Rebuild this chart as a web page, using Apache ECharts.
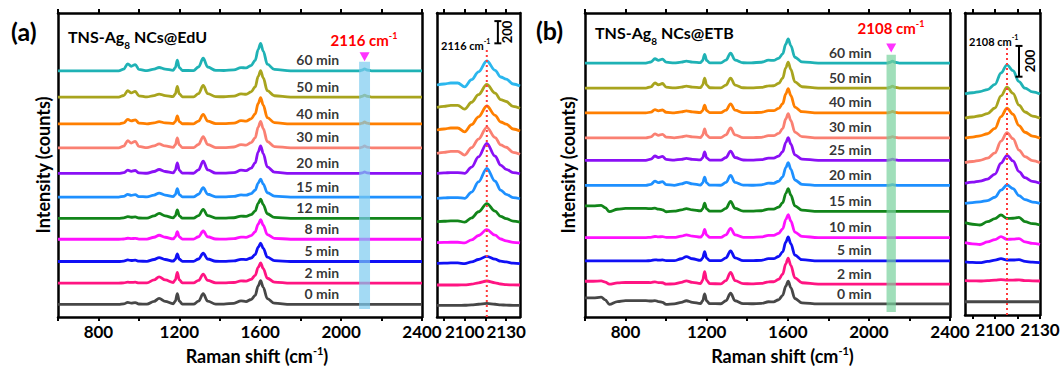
<!DOCTYPE html>
<html>
<head>
<meta charset="utf-8">
<script src="https://cdn.jsdelivr.net/npm/echarts@6/dist/echarts.min.js"></script>
<style>
  html, body { margin: 0; padding: 0; background: #fff; }
  #chart { width: 1064px; height: 370px; }
</style>
</head>
<body>
<div id="chart"></div>
<script>
/* ── Data ──────────────────────────────────────────── */
const timesA = ["60 min", "50 min", "40 min", "30 min", "20 min", "15 min", "12 min", "8 min", "5 min", "2 min", "0 min"];
const timesB = ["60 min", "50 min", "40 min", "30 min", "25 min", "20 min", "15 min", "10 min", "5 min", "2 min", "0 min"];

const traceColors = ["#1FB2B5", "#A8A41E", "#FF7F00", "#FA8072", "#8A10F5", "#1E90FF", "#12851A", "#FF10FF", "#1010F5", "#FF1482", "#474747"];
const smallColorsA = ["#2BB7EE", "#A8A41E", "#FF7F00", "#FA8072", "#8A10F5", "#1E90FF", "#12851A", "#FF10FF", "#1010F5", "#FF1482", "#474747"];

// x ticks / labels
const ticksMain = [600, 800, 1000, 1200, 1400, 1600, 1800, 2000, 2200, 2400];
const labelsMain = [800, 1200, 1600, 2000, 2400];
const ticksSmall = [2085, 2100, 2115, 2130];
const labelsSmall = [2100, 2130];

// Raman shift grid of the survey spectra (cm-1)
const shiftMain = [600, 640, 680, 700, 720, 760, 800, 900, 925, 945, 962, 982, 1000, 1040, 1075, 1100, 1130,
  1170, 1180, 1190, 1200, 1215, 1270, 1295, 1318, 1340, 1380, 1420, 1470, 1505, 1530, 1555, 1575, 1590,
  1602, 1615, 1635, 1670, 1750, 2090, 2105, 2116, 2128, 2150, 2400];

// band profiles [shift, fraction of band height]
const band1600 = [[1505, 0.01], [1530, 0.05], [1555, 0.15], [1575, 0.38], [1590, 0.78], [1602, 1], [1615, 0.72], [1635, 0.24], [1670, 0.05]];
const band1318 = [[1270, 0.02], [1295, 0.3], [1318, 1], [1340, 0.3], [1380, 0.03]];
const band1190 = [[1170, 0.03], [1180, 0.3], [1190, 1], [1200, 0.3], [1215, 0.03]];
const band960 = [[925, 0.25], [945, 1], [962, 0.65], [982, 0.9], [1000, 0.2]];
const band1100 = [[1040, 0.05], [1075, 0.5], [1100, 1], [1130, 0.5], [1170, 0.05]];
const band1505 = [[1420, 0.1], [1470, 0.3], [1505, 1], [1530, 0.5], [1555, 0.4]];
const band2116 = [[2105, 0.4], [2116, 1], [2128, 0.4]];
const bandLow = [[600, 0.9], [640, 0.9], [680, 1], [700, 0.6], [720, -0.05], [760, 0.35], [800, 0.5], [900, 0.5],
  [925, 0.4], [945, 0.35], [962, 0.25], [982, 0.1], [1000, -0.1]];

// baselines (counts), top trace first
const baseA = [2223, 1986, 1743, 1527, 1296, 1083, 891, 702, 501, 306, 114];
const baseB = [1656, 1493, 1331, 1168, 1022, 858, 689, 518, 366, 215, 85];

// band heights: 1600, 1318, 1190, 960, 1100, 1505, 2116, low
const ampA = [
  [248, 114, 96, 63, 30, 27, 18, 0],
  [239, 105, 96, 57, 27, 27, 18, 0],
  [237, 87, 72, 42, 21, 27, 18, 0],
  [240, 102, 90, 66, 36, 27, 18, 0],
  [250, 111, 96, 30, 36, 27, 14, 0],
  [162, 84, 75, 24, 36, 18, 0, 0],
  [173, 81, 75, 15, 45, 18, 0, 0],
  [176, 75, 69, 9, 36, 18, 0, 0],
  [165, 75, 69, 14, 36, 18, 0, 0],
  [182, 81, 96, 9, 57, 18, 0, 0],
  [214, 96, 96, 18, 54, 30, 0, 0],
];
const ampB = [
  [158, 65, 57, 28, 13, 18, 13, 0],
  [169, 65, 65, 33, 13, 13, 13, 0],
  [158, 59, 50, 21, 13, 13, 10, 0],
  [158, 65, 59, 26, 13, 13, 8, 0],
  [148, 60, 54, 28, 13, 13, 8, 0],
  [148, 65, 54, 28, 20, 13, 5, 0],
  [148, 65, 54, 7, 18, 13, 0, 39],
  [150, 60, 54, 7, 18, 13, 0, 0],
  [156, 65, 60, 7, 28, 13, 0, 0],
  [169, 76, 80, 7, 21, 13, 0, 20],
  [148, 70, 65, 7, 21, 13, 0, 44],
];

// zoomed alkyne region
const shiftSmA = [2080, 2085, 2090, 2095, 2100, 2105, 2110, 2116, 2122, 2126, 2130, 2135, 2140];
const peakSmA = [[2100, 0.03], [2105, 0.2], [2110, 0.55], [2116, 1], [2122, 0.55], [2126, 0.25], [2130, 0.08], [2135, 0.02]];
const rippleSmA = [[2085, 0.2], [2090, 0.4], [2095, 0.4], [2100, -0.5], [2105, 0.1], [2122, 0.3], [2126, 0.4], [2130, 0.8], [2135, 0.1], [2140, -0.2]];
const baseSmA = [2088, 1887, 1683, 1473, 1293, 1068, 858, 669, 483, 288, 105];
const ampSmA = [[216, 45], [207, 45], [216, 45], [234, 45], [270, 18], [270, 18], [162, 18], [117, 9], [63, 9], [36, 0], [18, 0]];

const shiftSmB = [2080, 2085, 2090, 2095, 2100, 2104, 2108, 2112, 2116, 2120, 2125, 2130];
const peakSmB = [[2085, 0.04], [2090, 0.08], [2095, 0.15], [2100, 0.33], [2104, 0.72], [2108, 1], [2112, 0.8], [2116, 0.42], [2120, 0.2], [2125, 0.07]];
const bumpSmB = [[2085, -0.2], [2090, -0.3], [2095, 0.13], [2100, 0.52], [2104, 1], [2108, 0.56], [2112, 0.58], [2116, 0.69], [2120, 0.13], [2125, -0.13], [2130, -0.3]];
const baseSmB = [1437, 1279, 1149, 990, 856, 726, 600, 470, 346, 223, 86];
const ampSmB = [[189, 0], [202, 0], [195, 0], [195, 0], [182, 0], [119, 0], [0, 50], [0, 39], [0, 20], [0, 7], [0, 0]];

/* ── Helpers ───────────────────────────────────────── */
const FONT = "Lato";
const frame = { onZero: false, lineStyle: { color: "#000", width: 2.5 } };

const at = (band, x) => {
  const p = band.find((d) => d[0] === x);
  return p ? p[1] : 0;
};

function traces(g, shift, bands, base, amps, colors) {
  return base.map((b, i) => ({
    type: "line", xAxisIndex: 2 * g, yAxisIndex: 2 * g, z: 2,
    data: shift.map((x) => [x, b + bands.reduce((s, band, k) => s + amps[i][k] * at(band, x), 0)]),
    symbol: "none", smooth: 0.35, smoothMonotone: "x", silent: true,
    lineStyle: { color: colors[i], width: 2.8 },
  }));
}

function xAxes(g, min, max, ticks, labels, name, pad) {
  const tick = { show: true, inside: false, length: 4, lineStyle: { color: "#000", width: 2 }, customValues: ticks };
  const bottom = {
    type: "value", gridIndex: g, position: "bottom", min, max,
    axisLine: frame, axisTick: tick, splitLine: { show: false },
    axisLabel: {
      customValues: labels, formatter: (v) => String(v), hideOverlap: false,
      color: "#000", fontFamily: FONT, fontSize: 17, fontWeight: "bold", margin: 6,
    },
  };
  if (name) {
    Object.assign(bottom, {
      name: "{t|Raman shift (cm}{s|-1}{t|)}", nameLocation: "middle", nameGap: 28,
      nameTextStyle: {
        padding: [0, 0, 0, pad],
        rich: {
          t: { fontFamily: FONT, fontSize: 18, fontWeight: "bold", color: "#000", lineHeight: 22 },
          s: { fontFamily: FONT, fontSize: 11, fontWeight: "bold", color: "#000", verticalAlign: "top", lineHeight: 12 },
        },
      },
    });
  }
  const top = {
    type: "value", gridIndex: g, position: "top", min, max,
    axisLine: frame, axisTick: tick, axisLabel: { show: false }, splitLine: { show: false },
  };
  return [bottom, top];
}

function yAxes(g, max, name, gap) {
  const left = {
    type: "value", gridIndex: g, position: "left", min: 0, max,
    axisLine: { show: true, ...frame }, axisTick: { show: false }, axisLabel: { show: false }, splitLine: { show: false },
  };
  if (name) {
    Object.assign(left, {
      name: "Intensity (counts)", nameLocation: "middle", nameRotate: 90, nameGap: gap,
      nameTextStyle: { fontFamily: FONT, fontSize: 18, fontWeight: "bold", color: "#000" },
    });
  }
  const right = { ...left, position: "right", name: "" };
  return [left, right];
}

function labelSeries(g, names, base, x, lift) {
  return {
    type: "scatter", xAxisIndex: 2 * g, yAxisIndex: 2 * g, symbolSize: 0, silent: true, z: 6,
    data: base.map((b, i) => ({ name: names[i], value: [x, b + lift] })),
    label: { show: true, position: "left", distance: 0, formatter: "{b}", color: "#000", fontFamily: FONT, fontSize: 14, fontWeight: "bold" },
  };
}

function bandSeries(g, rect, color) {
  return {
    type: "custom", xAxisIndex: 2 * g, yAxisIndex: 2 * g, z: 4, silent: true, clip: false,
    data: [rect],
    renderItem: (params, api) => {
      const p0 = api.coord([api.value(0), api.value(3)]);
      const p1 = api.coord([api.value(1), api.value(2)]);
      return { type: "rect", shape: { x: p0[0], y: p0[1], width: p1[0] - p0[0], height: p1[1] - p0[1] }, style: { fill: color, opacity: 0.7 } };
    },
  };
}

function marker(g, pt) {
  return {
    type: "scatter", xAxisIndex: 2 * g, yAxisIndex: 2 * g, z: 6, silent: true,
    data: [pt], symbol: "triangle", symbolRotate: 180, symbolSize: [10, 9], itemStyle: { color: "#FF00FF" },
  };
}

function dotted(g, x, top) {
  return {
    type: "line", xAxisIndex: 2 * g, yAxisIndex: 2 * g, z: 5, silent: true, symbol: "none",
    data: [[x, top], [x, 0]], lineStyle: { color: "#FF3B3B", width: 2, type: [2, 3] },
  };
}

function scaleBar(g, x, y0, len) {
  return {
    type: "line", xAxisIndex: 2 * g, yAxisIndex: 2 * g, z: 5, silent: true,
    data: [[x, y0], [x, y0 + len]], symbol: "rect", symbolSize: [7, 2], showSymbol: true,
    itemStyle: { color: "#000" }, lineStyle: { color: "#000", width: 2 },
  };
}

function txt(x, y, text, size, opts) {
  return {
    type: "text", x, y, rotation: (opts && opts.rot) || 0,
    style: Object.assign({ text, fontFamily: FONT, fontSize: size, fontWeight: "bold", fill: "#000", align: "left", verticalAlign: "middle" }, (opts && opts.style) || {}),
  };
}

const cmRich = (size, color) => ({
  n: { fontFamily: FONT, fontSize: size, fontWeight: "bold", fill: color, lineHeight: size + 4 },
  s: { fontFamily: FONT, fontSize: Math.round(size * 0.62), fontWeight: "bold", fill: color, verticalAlign: "top", lineHeight: Math.round(size * 0.62) + 1 },
});
const titleRich = {
  n: { fontFamily: FONT, fontSize: 16, fontWeight: "bold", fill: "#000", lineHeight: 20 },
  b: { fontFamily: FONT, fontSize: 10, fontWeight: "bold", fill: "#000", verticalAlign: "bottom", lineHeight: 10, padding: [0, 0, -4, 0] },
};

/* ── Chart ─────────────────────────────────────────── */
const chart = echarts.init(document.getElementById("chart"), null, { renderer: "svg" });

const mainBands = [band1600, band1318, band1190, band960, band1100, band1505, band2116, bandLow];

chart.setOption({
  animation: false,
  backgroundColor: "#fff",
  grid: [
    { left: 58, top: 13, width: 364, height: 305 },
    { left: 437, top: 13, width: 83, height: 304 },
    { left: 585, top: 13, width: 365, height: 305 },
    { left: 965, top: 13, width: 75, height: 302 },
  ],
  xAxis: [
    ...xAxes(0, 600, 2400, ticksMain, labelsMain, true, 34),
    ...xAxes(1, 2080, 2140, ticksSmall, labelsSmall),
    ...xAxes(2, 600, 2400, ticksMain, labelsMain, true, 30),
    ...xAxes(3, 2080, 2130, ticksSmall, labelsSmall),
  ],
  yAxis: [
    ...yAxes(0, 2745, true, 6),
    ...yAxes(1, 2736),
    ...yAxes(2, 1982.5, true, 8),
    ...yAxes(3, 1963),
  ],
  series: [
    ...traces(0, shiftMain, mainBands, baseA, ampA, traceColors),
    ...traces(1, shiftSmA, [peakSmA, rippleSmA], baseSmA, ampSmA, smallColorsA),
    ...traces(2, shiftMain, mainBands, baseB, ampB, traceColors),
    ...traces(3, shiftSmB, [peakSmB, bumpSmB], baseSmB, ampSmB, traceColors),
    bandSeries(0, [2089, 2143, 72, 2304], "#7CCBEF"),
    bandSeries(2, [2087, 2133, 32, 1710], "#78D19C"),
    marker(0, [2116, 2349]),
    marker(2, [2110, 1755]),
    labelSeries(0, timesA, baseA, 1990, 99),
    labelSeries(2, timesB, baseB, 2014, 71.5),
    dotted(1, 2116, 2403),
    dotted(3, 2108, 1735),
    scaleBar(1, 2124, 2463, 200),
    scaleBar(3, 2116, 1549, 200),
  ],
  graphic: [
    txt(11, 31, "(a)", 25),
    txt(536, 30, "(b)", 25),
    { type: "text", x: 68, y: 36, style: { text: "{n|TNS-Ag}{b|8}{n| NCs@EdU}", rich: titleRich, verticalAlign: "middle" } },
    { type: "text", x: 595, y: 32, style: { text: "{n|TNS-Ag}{b|8}{n| NCs@ETB}", rich: titleRich, verticalAlign: "middle" } },
    { type: "text", x: 364, y: 40, style: { text: "{n|2116 cm}{s|-1}", rich: cmRich(15, "#FF0000"), align: "center", verticalAlign: "middle" } },
    { type: "text", x: 891, y: 28, style: { text: "{n|2108 cm}{s|-1}", rich: cmRich(15, "#FF0000"), align: "center", verticalAlign: "middle" } },
    { type: "text", x: 441, y: 45, style: { text: "{n|2116 cm}{s|-1}", rich: cmRich(11, "#000"), align: "left", verticalAlign: "middle" } },
    { type: "text", x: 969, y: 41, style: { text: "{n|2108 cm}{s|-1}", rich: cmRich(11, "#000"), align: "left", verticalAlign: "middle" } },
    txt(507, 32, "200", 13, { rot: Math.PI / 2, style: { align: "center" } }),
    txt(1030, 61, "200", 13, { rot: Math.PI / 2, style: { align: "center" } }),
  ],
});

window.addEventListener("resize", () => chart.resize());
</script>
</body>
</html>
